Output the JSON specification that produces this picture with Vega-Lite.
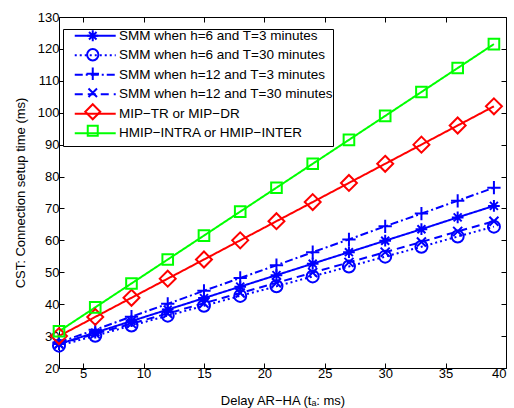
{
  "$schema": "https://vega.github.io/schema/vega-lite/v6.json",
  "width": 447,
  "height": 351,
  "autosize": {"type": "none"},
  "padding": {"left": 59, "top": 17, "right": 8, "bottom": 40},
  "config": {
    "view": {"stroke": null},
    "font": "Liberation Sans",
    "axis": {
      "domainColor": "black", "domainWidth": 1, "tickColor": "black", "tickSize": -5, "tickWidth": 1,
      "labelColor": "black", "labelFont": "Liberation Sans", "labelFontSize": 13,
      "titleFont": "Liberation Sans", "titleFontSize": 13, "titleFontWeight": "normal", "titleColor": "black",
      "grid": false
    }
  },
  "datasets": {
    "d": [
      {"x": 3, "y": 27.5, "s": "SMM when h=6 and T=3 minutes"},
      {"x": 6, "y": 31.1, "s": "SMM when h=6 and T=3 minutes"},
      {"x": 9, "y": 34.7, "s": "SMM when h=6 and T=3 minutes"},
      {"x": 12, "y": 38.3, "s": "SMM when h=6 and T=3 minutes"},
      {"x": 15, "y": 41.9, "s": "SMM when h=6 and T=3 minutes"},
      {"x": 18, "y": 45.5, "s": "SMM when h=6 and T=3 minutes"},
      {"x": 21, "y": 49.1, "s": "SMM when h=6 and T=3 minutes"},
      {"x": 24, "y": 52.7, "s": "SMM when h=6 and T=3 minutes"},
      {"x": 27, "y": 56.3, "s": "SMM when h=6 and T=3 minutes"},
      {"x": 30, "y": 59.9, "s": "SMM when h=6 and T=3 minutes"},
      {"x": 33, "y": 63.5, "s": "SMM when h=6 and T=3 minutes"},
      {"x": 36, "y": 67.2, "s": "SMM when h=6 and T=3 minutes"},
      {"x": 39, "y": 70.8, "s": "SMM when h=6 and T=3 minutes"},
      {"x": 3, "y": 27.0, "s": "SMM when h=6 and T=30 minutes"},
      {"x": 6, "y": 30.1, "s": "SMM when h=6 and T=30 minutes"},
      {"x": 9, "y": 33.3, "s": "SMM when h=6 and T=30 minutes"},
      {"x": 12, "y": 36.4, "s": "SMM when h=6 and T=30 minutes"},
      {"x": 15, "y": 39.5, "s": "SMM when h=6 and T=30 minutes"},
      {"x": 18, "y": 42.6, "s": "SMM when h=6 and T=30 minutes"},
      {"x": 21, "y": 45.6, "s": "SMM when h=6 and T=30 minutes"},
      {"x": 24, "y": 48.7, "s": "SMM when h=6 and T=30 minutes"},
      {"x": 27, "y": 51.8, "s": "SMM when h=6 and T=30 minutes"},
      {"x": 30, "y": 54.9, "s": "SMM when h=6 and T=30 minutes"},
      {"x": 33, "y": 58.0, "s": "SMM when h=6 and T=30 minutes"},
      {"x": 36, "y": 61.2, "s": "SMM when h=6 and T=30 minutes"},
      {"x": 39, "y": 64.3, "s": "SMM when h=6 and T=30 minutes"},
      {"x": 3, "y": 28.0, "s": "SMM when h=12 and T=3 minutes"},
      {"x": 6, "y": 32.0, "s": "SMM when h=12 and T=3 minutes"},
      {"x": 9, "y": 36.1, "s": "SMM when h=12 and T=3 minutes"},
      {"x": 12, "y": 40.1, "s": "SMM when h=12 and T=3 minutes"},
      {"x": 15, "y": 44.2, "s": "SMM when h=12 and T=3 minutes"},
      {"x": 18, "y": 48.2, "s": "SMM when h=12 and T=3 minutes"},
      {"x": 21, "y": 52.2, "s": "SMM when h=12 and T=3 minutes"},
      {"x": 24, "y": 56.3, "s": "SMM when h=12 and T=3 minutes"},
      {"x": 27, "y": 60.3, "s": "SMM when h=12 and T=3 minutes"},
      {"x": 30, "y": 64.4, "s": "SMM when h=12 and T=3 minutes"},
      {"x": 33, "y": 68.4, "s": "SMM when h=12 and T=3 minutes"},
      {"x": 36, "y": 72.4, "s": "SMM when h=12 and T=3 minutes"},
      {"x": 39, "y": 76.5, "s": "SMM when h=12 and T=3 minutes"},
      {"x": 3, "y": 27.5, "s": "SMM when h=12 and T=30 minutes"},
      {"x": 6, "y": 30.7, "s": "SMM when h=12 and T=30 minutes"},
      {"x": 9, "y": 33.9, "s": "SMM when h=12 and T=30 minutes"},
      {"x": 12, "y": 37.1, "s": "SMM when h=12 and T=30 minutes"},
      {"x": 15, "y": 40.3, "s": "SMM when h=12 and T=30 minutes"},
      {"x": 18, "y": 43.5, "s": "SMM when h=12 and T=30 minutes"},
      {"x": 21, "y": 46.7, "s": "SMM when h=12 and T=30 minutes"},
      {"x": 24, "y": 49.9, "s": "SMM when h=12 and T=30 minutes"},
      {"x": 27, "y": 53.1, "s": "SMM when h=12 and T=30 minutes"},
      {"x": 30, "y": 56.3, "s": "SMM when h=12 and T=30 minutes"},
      {"x": 33, "y": 59.5, "s": "SMM when h=12 and T=30 minutes"},
      {"x": 36, "y": 62.8, "s": "SMM when h=12 and T=30 minutes"},
      {"x": 39, "y": 66.0, "s": "SMM when h=12 and T=30 minutes"},
      {"x": 3, "y": 30, "s": "MIP−TR or MIP−DR"},
      {"x": 6, "y": 36, "s": "MIP−TR or MIP−DR"},
      {"x": 9, "y": 42, "s": "MIP−TR or MIP−DR"},
      {"x": 12, "y": 48, "s": "MIP−TR or MIP−DR"},
      {"x": 15, "y": 54, "s": "MIP−TR or MIP−DR"},
      {"x": 18, "y": 60, "s": "MIP−TR or MIP−DR"},
      {"x": 21, "y": 66, "s": "MIP−TR or MIP−DR"},
      {"x": 24, "y": 72, "s": "MIP−TR or MIP−DR"},
      {"x": 27, "y": 78, "s": "MIP−TR or MIP−DR"},
      {"x": 30, "y": 84, "s": "MIP−TR or MIP−DR"},
      {"x": 33, "y": 90, "s": "MIP−TR or MIP−DR"},
      {"x": 36, "y": 96, "s": "MIP−TR or MIP−DR"},
      {"x": 39, "y": 102, "s": "MIP−TR or MIP−DR"},
      {"x": 3, "y": 31.5, "s": "HMIP−INTRA or HMIP−INTER"},
      {"x": 6, "y": 39, "s": "HMIP−INTRA or HMIP−INTER"},
      {"x": 9, "y": 46.5, "s": "HMIP−INTRA or HMIP−INTER"},
      {"x": 12, "y": 54, "s": "HMIP−INTRA or HMIP−INTER"},
      {"x": 15, "y": 61.5, "s": "HMIP−INTRA or HMIP−INTER"},
      {"x": 18, "y": 69, "s": "HMIP−INTRA or HMIP−INTER"},
      {"x": 21, "y": 76.5, "s": "HMIP−INTRA or HMIP−INTER"},
      {"x": 24, "y": 84, "s": "HMIP−INTRA or HMIP−INTER"},
      {"x": 27, "y": 91.5, "s": "HMIP−INTRA or HMIP−INTER"},
      {"x": 30, "y": 99, "s": "HMIP−INTRA or HMIP−INTER"},
      {"x": 33, "y": 106.5, "s": "HMIP−INTRA or HMIP−INTER"},
      {"x": 36, "y": 114, "s": "HMIP−INTRA or HMIP−INTER"},
      {"x": 39, "y": 121.5, "s": "HMIP−INTRA or HMIP−INTER"}
    ]
  },
  "data": {"name": "d"},
  "layer": [
    {
      "mark": {"type": "line", "strokeWidth": 2},
      "encoding": {
        "x": {"field": "x", "type": "quantitative", "scale": {"domain": [3, 40], "nice": false, "zero": false},
          "axis": {"orient": "bottom", "values": [5, 10, 15, 20, 25, 30, 35, 40], "title": "Delay AR−HA (tₐ: ms)", "labelPadding": 4, "titlePadding": 14}},
        "y": {"field": "y", "type": "quantitative", "scale": {"domain": [20, 130], "nice": false, "zero": false},
          "axis": {"orient": "left", "values": [20, 30, 40, 50, 60, 70, 80, 90, 100, 110, 120, 130], "title": "CST: Connection setup time (ms)", "labelPadding": 5, "titlePadding": 10}},
        "color": {"field": "s", "type": "nominal",
          "scale": {"domain": ["SMM when h=6 and T=3 minutes", "SMM when h=6 and T=30 minutes", "SMM when h=12 and T=3 minutes", "SMM when h=12 and T=30 minutes", "MIP−TR or MIP−DR", "HMIP−INTRA or HMIP−INTER"],
            "range": ["#0000ff", "#0000ff", "#0000ff", "#0000ff", "#ff0000", "#00ff00"]},
          "legend": {"title": null, "orient": "none", "legendX": 4, "legendY": 12, "padding": 0, "strokeColor": "black", "fillColor": "white", "cornerRadius": 0,
            "symbolType": "M0,-1.5M0,1.5M0.94,0H8.65", "symbolSize": 113, "symbolStrokeWidth": 2, "labelOffset": 42.4, "labelFontSize": 13.5, "labelFont": "Liberation Sans", "labelColor": "black", "rowPadding": -5.5, "labelLimit": 400, "zindex": 1}},
        "strokeDash": {"field": "s", "type": "nominal",
          "scale": {"domain": ["SMM when h=6 and T=3 minutes", "SMM when h=6 and T=30 minutes", "SMM when h=12 and T=3 minutes", "SMM when h=12 and T=30 minutes", "MIP−TR or MIP−DR", "HMIP−INTRA or HMIP−INTER"],
            "range": [[1, 0], [2, 3], [8, 3, 2, 3], [8, 5], [1, 0], [1, 0]]},
          "legend": {"title": null, "orient": "none", "legendX": 4, "legendY": 12, "padding": 0, "strokeColor": "black", "fillColor": "white", "cornerRadius": 0,
            "symbolType": "M0,-1.5M0,1.5M0.94,0H8.65", "symbolSize": 113, "symbolStrokeWidth": 2, "labelOffset": 42.4, "labelFontSize": 13.5, "labelFont": "Liberation Sans", "labelColor": "black", "rowPadding": -5.5, "labelLimit": 400, "zindex": 1}}
      }
    },
    {
      "mark": {"type": "point", "filled": false, "strokeWidth": 2, "size": 113, "opacity": 1},
      "encoding": {
        "x": {"field": "x", "type": "quantitative", "axis": {"orient": "top", "values": [5, 10, 15, 20, 25, 30, 35, 40], "labels": false, "title": null}},
        "y": {"field": "y", "type": "quantitative", "axis": {"orient": "right", "values": [20, 30, 40, 50, 60, 70, 80, 90, 100, 110, 120, 130], "labels": false, "title": null}},
        "color": {"field": "s", "type": "nominal",
          "legend": {"title": null, "orient": "none", "legendX": 27, "legendY": 12, "padding": 0, "symbolStrokeWidth": 2, "symbolOpacity": 1, "labelExpr": "''", "labelFontSize": 13.5, "rowPadding": -5.5, "zindex": 2}},
        "shape": {"field": "s", "type": "nominal",
          "scale": {"domain": ["SMM when h=6 and T=3 minutes", "SMM when h=6 and T=30 minutes", "SMM when h=12 and T=3 minutes", "SMM when h=12 and T=30 minutes", "MIP−TR or MIP−DR", "HMIP−INTRA or HMIP−INTER"],
            "range": [
              "M0,-1.5M0,1.5M-1.1,0H1.1M0,-1.1V1.1M-0.75,-0.75L0.75,0.75M-0.75,0.75L0.75,-0.75",
              "M0,-1.5M0,1.5M-1.13,0A1.13,1.13 0 1,0 1.13,0A1.13,1.13 0 1,0 -1.13,0Z",
              "M0,-1.5M0,1.5M-1.25,0H1.25M0,-1.25V1.25",
              "M0,-1.5M0,1.5M-0.85,-0.85L0.85,0.85M-0.85,0.85L0.85,-0.85",
              "M0,-1.5L1.5,0L0,1.5L-1.5,0Z",
              "M0,-1.5M0,1.5M-1,-1H1V1H-1Z"]},
          "legend": {"title": null, "orient": "none", "legendX": 27, "legendY": 12, "padding": 0, "symbolStrokeWidth": 2, "symbolOpacity": 1, "labelExpr": "''", "labelFontSize": 13.5, "rowPadding": -5.5, "zindex": 2}}
      }
    }
  ],
  "resolve": {"axis": {"x": "independent", "y": "independent"}, "legend": {"color": "independent", "shape": "independent", "strokeDash": "independent"}}
}
